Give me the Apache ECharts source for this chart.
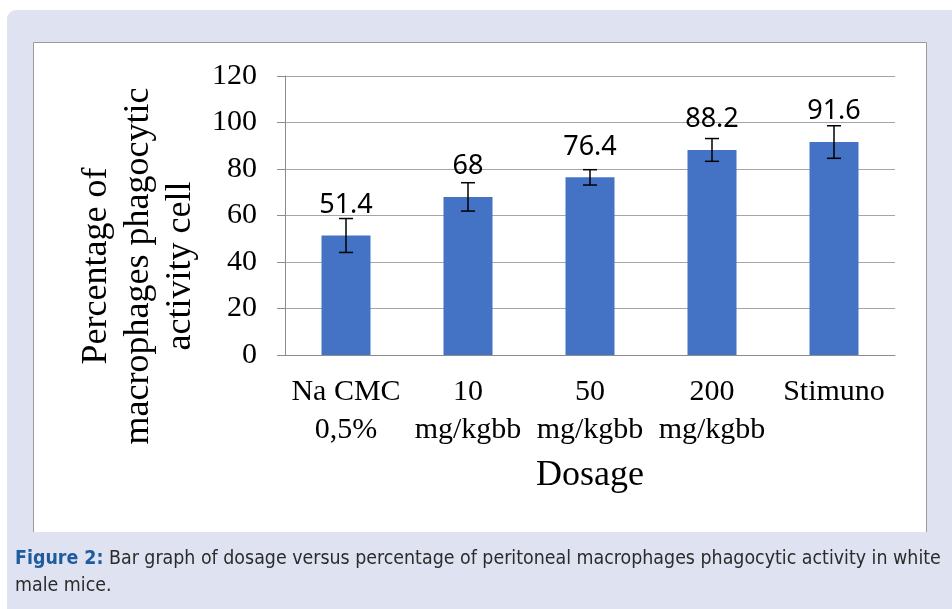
<!DOCTYPE html>
<html>
<head>
<meta charset="utf-8">
<script src="https://cdn.jsdelivr.net/npm/echarts@6/dist/echarts.min.js"></script>
<style>
html,body{margin:0;padding:0;background:#fff;}
#chart{width:952px;height:609px;}
</style>
</head>
<body>
<div id="chart"></div>
<script>
var categories = ['Na CMC\n0,5%', '10\nmg/kgbb', '50\nmg/kgbb', '200\nmg/kgbb', 'Stimuno'];
var means = [51.4, 68, 76.4, 88.2, 91.6];
var errors = [7.3, 6.1, 3.3, 4.9, 7.0];
var yTicks = [0, 20, 40, 60, 80, 100, 120];

var errorData = means.map(function (m, i) { return [i, m - errors[i], m + errors[i]]; });

var chart = echarts.init(document.getElementById('chart'), null, { renderer: 'canvas' });
var serif = '"Liberation Serif", "Times New Roman", serif';
var capFont = '"Liberation Sans Narrow", "DejaVu Sans Condensed", sans-serif';

var option = {
  backgroundColor: '#ffffff',
  animation: false,
  graphic: [
    { type: 'rect', z: -20, silent: true, shape: { x: 7, y: 10, width: 980, height: 640, r: 9 }, style: { fill: '#dfe2f0' } },
    { type: 'rect', z: -19, silent: true, shape: { x: 33, y: 42, width: 894, height: 490 }, style: { fill: '#ffffff' } },
    { type: 'polyline', z: -18, silent: true, shape: { points: [[33.5, 532], [33.5, 42.5], [926.5, 42.5], [926.5, 532]] }, style: { stroke: '#9a9a9a', lineWidth: 1, fill: null } },
    { type: 'text', z: 10, silent: true,
      style: { text: 'Percentage of\nmacrophages phagocytic\nactivity cell', font: '36px ' + serif, fill: '#000', align: 'center', verticalAlign: 'middle', lineHeight: 42 },
      rotation: Math.PI / 2, x: 139, y: 266 },
    { type: 'text', z: 10, silent: true, x: 15, y: 545,
      style: {
        text: '{b|Figure 2:} Bar graph of dosage versus percentage of peritoneal macrophages phagocytic activity in white\nmale mice.',
        font: '19.4px ' + capFont, fill: '#2b2b2b', lineHeight: 27,
        rich: { b: { font: 'bold 19.4px ' + capFont, fill: '#1f5c9e', lineHeight: 27 } }
      } }
  ],
  grid: { left: 285, right: 57, top: 76, bottom: 254, containLabel: false },
  xAxis: {
    type: 'category',
    data: categories,
    axisLine: { show: true, lineStyle: { color: '#8c8c8c', width: 1 } },
    axisTick: { show: false },
    axisLabel: { color: '#000', fontFamily: serif, fontSize: 30, lineHeight: 38, margin: 18, interval: 0 },
    name: 'Dosage',
    nameLocation: 'middle',
    nameGap: 103,
    nameTextStyle: { color: '#000', fontFamily: serif, fontSize: 36 }
  },
  yAxis: {
    type: 'value',
    min: 0, max: 120, interval: 20,
    axisLine: { show: true, lineStyle: { color: '#8c8c8c', width: 1 } },
    axisTick: { show: true, inside: false, length: 8, lineStyle: { color: '#8c8c8c' } },
    axisLabel: { color: '#000', fontFamily: serif, fontSize: 30, margin: 28,
      formatter: function (v) { return yTicks.indexOf(v) >= 0 ? String(v) : ''; } },
    splitLine: { show: true, lineStyle: { color: '#a6a6a6', width: 1 } }
  },
  series: [
    {
      type: 'bar',
      data: means,
      barWidth: 49,
      itemStyle: { color: '#4472c4' },
      label: { show: true, position: 'top', distance: 17, color: '#000',
        fontFamily: '"Noto Sans", "Open Sans", sans-serif', fontSize: 27, lineHeight: 27 },
      z: 2
    },
    {
      type: 'custom',
      data: errorData,
      z: 5,
      renderItem: function (params, api) {
        var i = api.value(0);
        var lo = api.coord([i, api.value(1)]);
        var hi = api.coord([i, api.value(2)]);
        var hw = 7;
        var st = { stroke: '#000', lineWidth: 1.5 };
        return {
          type: 'group',
          children: [
            { type: 'line', shape: { x1: lo[0], y1: lo[1], x2: hi[0], y2: hi[1] }, style: st },
            { type: 'line', shape: { x1: lo[0] - hw, y1: lo[1], x2: lo[0] + hw, y2: lo[1] }, style: st },
            { type: 'line', shape: { x1: hi[0] - hw, y1: hi[1], x2: hi[0] + hw, y2: hi[1] }, style: st }
          ]
        };
      },
      encode: { x: 0, y: [1, 2] }
    }
  ]
};
chart.setOption(option);
</script>
</body>
</html>
